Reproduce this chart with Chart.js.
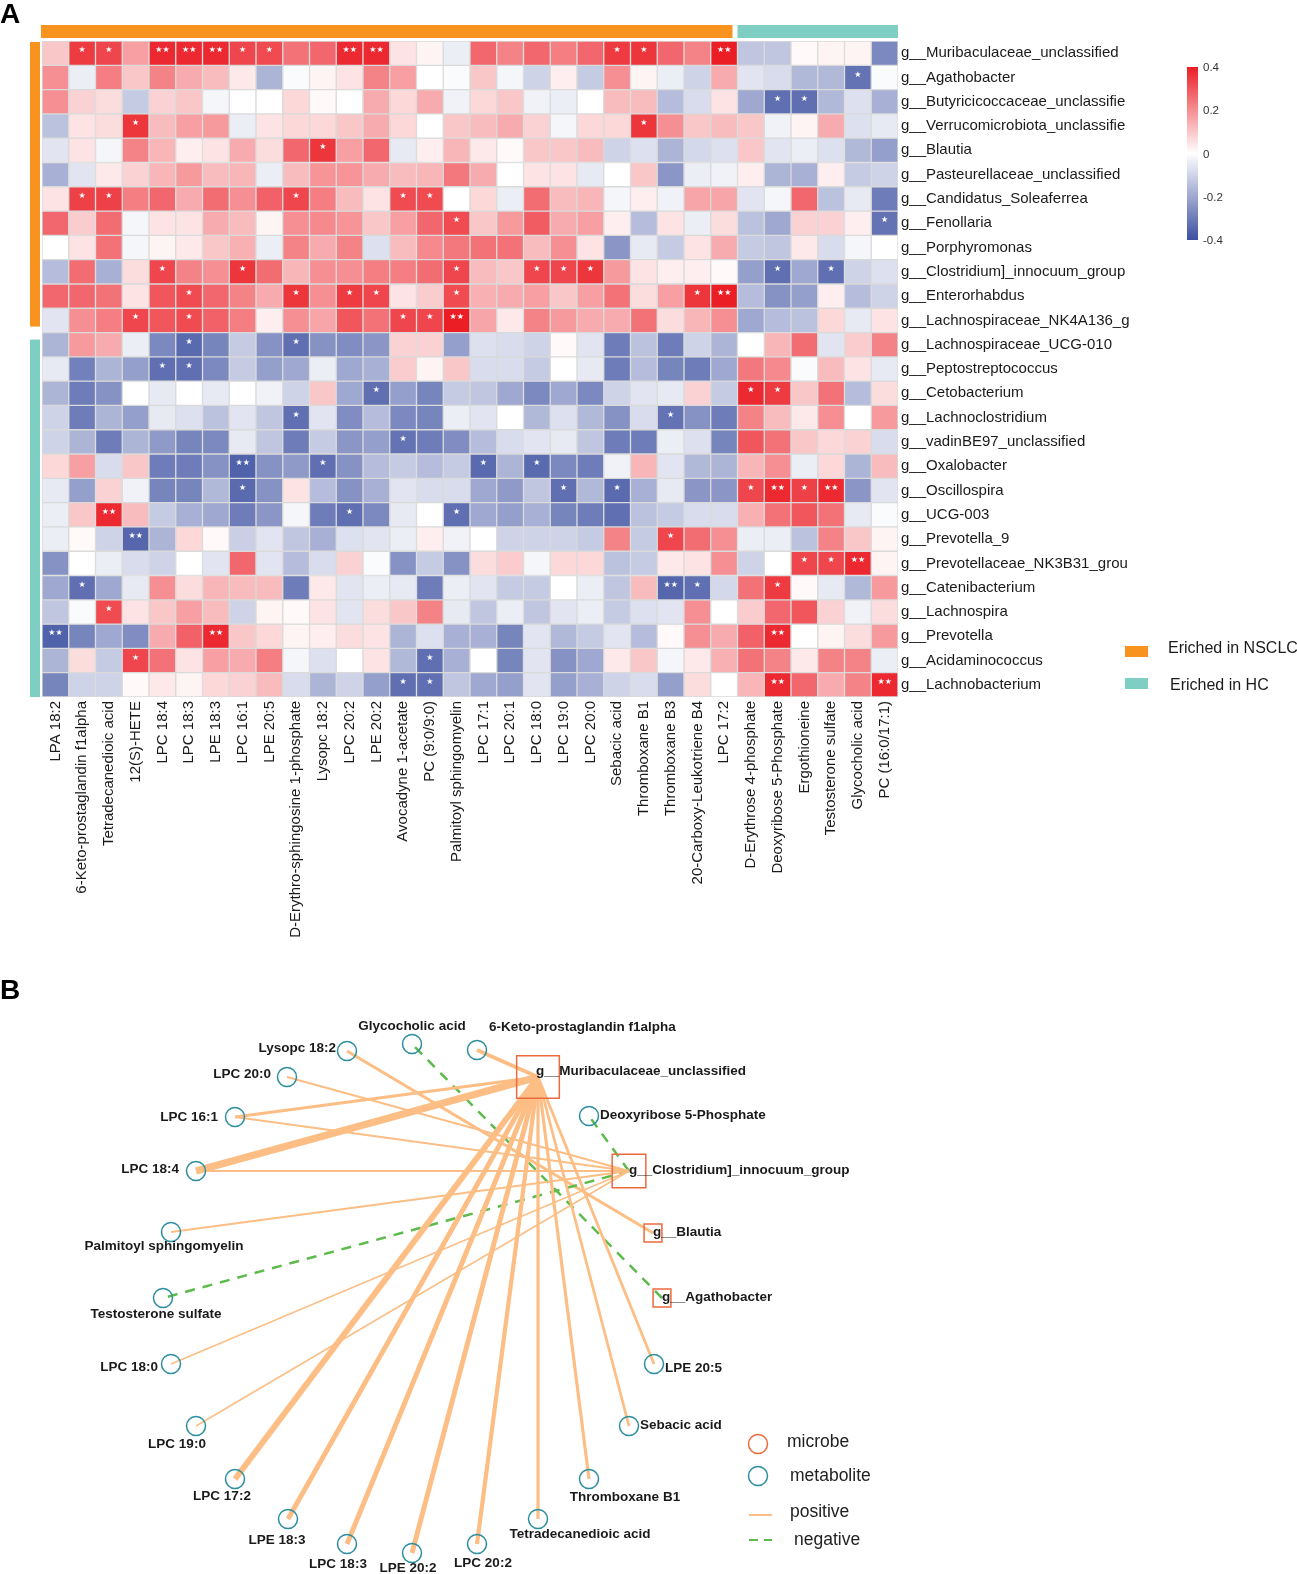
<!DOCTYPE html>
<html>
<head>
<meta charset="utf-8">
<script src="https://cdn.jsdelivr.net/npm/chart.js@4.4.0/dist/chart.umd.min.js"></script>
<style>
  html, body { margin: 0; padding: 0; background: #fff; }
  body { width: 1297px; height: 1574px; position: relative; overflow: hidden; }
  #heat { position: absolute; left: 0; top: 0; }
  #net { position: absolute; left: 0; top: 975px; }
  .tag { position: absolute; font: bold 28px/28px 'Liberation Sans', Arial, sans-serif; color: #000; }
</style>
</head>
<body>
<canvas id="heat" width="1297" height="965"></canvas>
<canvas id="net" width="1297" height="599"></canvas>
<div class="tag" style="left:0; top:0">A</div>
<div class="tag" style="left:0; top:976px">B</div>
<script>
// ---------------------------------------------------------------------------
// Panel A data: Spearman correlations between genera (rows) and metabolites
// ---------------------------------------------------------------------------
const columnLabels = [
  'LPA 18:2', '6-Keto-prostaglandin f1alpha', 'Tetradecanedioic acid', '12(S)-HETE',
  'LPC 18:4', 'LPC 18:3', 'LPE 18:3', 'LPC 16:1', 'LPE 20:5',
  'D-Erythro-sphingosine 1-phosphate', 'Lysopc 18:2', 'LPC 20:2', 'LPE 20:2',
  'Avocadyne 1-acetate', 'PC (9:0/9:0)', 'Palmitoyl sphingomyelin', 'LPC 17:1',
  'LPC 20:1', 'LPC 18:0', 'LPC 19:0', 'LPC 20:0', 'Sebacic acid', 'Thromboxane B1',
  'Thromboxane B3', '20-Carboxy-Leukotriene B4', 'LPC 17:2', 'D-Erythrose 4-phosphate',
  'Deoxyribose 5-Phosphate', 'Ergothioneine', 'Testosterone sulfate', 'Glycocholic acid',
  'PC (16:0/17:1)',
];

const rowLabels = [
  'g__Muribaculaceae_unclassified', 'g__Agathobacter', 'g__Butyricicoccaceae_unclassifie',
  'g__Verrucomicrobiota_unclassifie', 'g__Blautia', 'g__Pasteurellaceae_unclassified',
  'g__Candidatus_Soleaferrea', 'g__Fenollaria', 'g__Porphyromonas',
  'g__Clostridium]_innocuum_group', 'g__Enterorhabdus', 'g__Lachnospiraceae_NK4A136_g',
  'g__Lachnospiraceae_UCG-010', 'g__Peptostreptococcus', 'g__Cetobacterium',
  'g__Lachnoclostridium', 'g__vadinBE97_unclassified', 'g__Oxalobacter', 'g__Oscillospira',
  'g__UCG-003', 'g__Prevotella_9', 'g__Prevotellaceae_NK3B31_grou', 'g__Catenibacterium',
  'g__Lachnospira', 'g__Prevotella', 'g__Acidaminococcus', 'g__Lachnobacterium',
];

// groups: first 26 metabolites / first 12 genera are enriched in NSCLC
const nsclcColumnCount = 26;
const nsclcRowCount = 12;

const corrValues = [
  [0.10, 0.35, 0.33, 0.17, 0.38, 0.38, 0.38, 0.33, 0.32, 0.25, 0.27, 0.38, 0.38, 0.05, 0.02, -0.04, 0.27, 0.22, 0.27, 0.23, 0.27, 0.35, 0.36, 0.27, 0.22, 0.40, -0.13, -0.13, 0.01, 0.02, 0.02, -0.27],
  [0.20, -0.04, 0.23, 0.10, 0.22, 0.15, 0.12, 0.04, -0.17, -0.01, 0.02, 0.05, 0.22, 0.17, 0.00, -0.01, 0.10, -0.02, -0.10, 0.03, -0.12, 0.20, 0.02, -0.04, -0.10, 0.15, -0.06, -0.08, -0.16, -0.16, -0.32, -0.01],
  [0.20, 0.08, 0.06, -0.12, 0.08, 0.10, -0.02, 0.00, 0.00, 0.07, 0.01, 0.00, 0.15, 0.07, 0.15, -0.03, 0.07, 0.10, -0.03, -0.04, 0.00, 0.12, 0.12, -0.15, -0.08, 0.05, -0.20, -0.33, -0.33, -0.16, -0.07, -0.18],
  [-0.14, 0.05, 0.06, 0.36, 0.12, 0.17, 0.18, -0.04, 0.05, 0.07, 0.07, 0.10, 0.15, 0.07, 0.00, 0.10, 0.12, 0.15, 0.08, -0.02, 0.07, 0.07, 0.36, 0.20, 0.10, 0.12, 0.10, -0.03, 0.02, 0.15, -0.07, -0.05],
  [-0.06, 0.05, -0.02, 0.22, 0.13, 0.03, 0.05, 0.15, 0.06, 0.27, 0.36, 0.17, 0.27, -0.05, 0.03, 0.13, 0.04, 0.01, 0.10, 0.10, 0.12, -0.10, -0.07, -0.17, -0.09, -0.07, 0.10, -0.06, -0.04, -0.07, -0.16, -0.22],
  [-0.18, -0.06, 0.04, 0.08, 0.13, 0.18, 0.12, 0.13, -0.04, 0.12, 0.19, 0.19, 0.15, 0.12, 0.13, 0.24, 0.15, 0.00, 0.05, 0.05, -0.05, 0.00, 0.10, -0.24, -0.04, -0.03, 0.03, -0.17, -0.18, 0.03, -0.12, -0.10],
  [0.05, 0.34, 0.34, 0.23, 0.27, 0.15, 0.26, 0.20, 0.28, 0.33, 0.23, 0.12, 0.05, 0.32, 0.32, 0.00, 0.07, -0.04, 0.26, 0.12, 0.13, -0.02, 0.03, -0.03, 0.16, 0.16, -0.06, -0.02, 0.27, -0.14, -0.05, -0.30],
  [0.27, 0.09, 0.26, -0.02, 0.05, 0.05, 0.15, 0.12, 0.02, 0.20, 0.21, 0.19, 0.10, 0.17, 0.27, 0.32, 0.10, 0.18, 0.29, 0.15, 0.17, 0.03, -0.15, 0.05, -0.04, 0.06, -0.14, -0.20, 0.08, 0.08, 0.03, -0.32],
  [0.00, 0.05, 0.25, -0.02, 0.02, 0.04, 0.10, 0.14, -0.04, 0.22, 0.15, 0.22, -0.07, 0.12, 0.21, 0.24, 0.25, 0.25, 0.12, 0.20, 0.05, -0.24, -0.05, -0.12, 0.05, 0.15, -0.12, -0.13, 0.04, -0.08, -0.02, 0.00],
  [-0.15, 0.26, -0.18, 0.06, 0.33, 0.22, 0.20, 0.36, 0.26, 0.13, 0.20, 0.20, 0.23, 0.23, 0.26, 0.33, 0.12, 0.10, 0.33, 0.33, 0.36, 0.18, 0.05, 0.03, 0.03, 0.01, -0.22, -0.33, -0.20, -0.33, -0.10, -0.07],
  [0.27, 0.27, 0.25, 0.05, 0.30, 0.32, 0.27, 0.22, 0.15, 0.36, 0.20, 0.35, 0.33, 0.05, 0.09, 0.32, 0.14, 0.15, 0.17, 0.10, 0.17, 0.25, 0.06, 0.17, 0.36, 0.40, -0.15, -0.25, -0.22, 0.03, -0.15, -0.10],
  [-0.06, 0.20, 0.23, 0.33, 0.30, 0.32, 0.28, 0.23, 0.03, 0.20, 0.16, 0.30, 0.25, 0.33, 0.33, 0.40, 0.16, 0.04, 0.22, 0.18, 0.15, 0.15, 0.25, 0.06, 0.13, 0.20, -0.20, -0.15, -0.14, 0.07, -0.05, 0.05],
  [-0.17, 0.18, 0.15, -0.04, -0.27, -0.34, -0.28, -0.12, -0.25, -0.33, -0.25, -0.26, -0.24, 0.08, 0.08, -0.22, -0.07, -0.08, -0.10, 0.01, -0.06, -0.30, -0.14, -0.30, -0.10, -0.17, 0.00, 0.13, 0.26, -0.06, 0.09, 0.22],
  [-0.05, -0.29, -0.17, -0.22, -0.33, -0.33, -0.27, -0.12, -0.22, -0.20, -0.04, -0.20, -0.18, 0.09, 0.02, 0.10, -0.08, -0.08, -0.12, 0.00, -0.05, -0.30, -0.15, -0.28, -0.30, -0.20, 0.24, 0.21, -0.01, 0.12, 0.05, -0.05],
  [-0.17, -0.30, -0.25, 0.00, -0.05, 0.00, -0.05, 0.00, -0.03, -0.10, 0.10, -0.20, -0.33, -0.22, -0.28, -0.12, -0.13, -0.20, -0.27, -0.20, -0.27, -0.10, -0.06, -0.05, 0.08, -0.12, 0.38, 0.35, 0.10, 0.25, -0.15, 0.06],
  [-0.10, -0.30, -0.17, -0.22, -0.05, -0.07, -0.14, -0.06, -0.13, -0.33, -0.06, -0.26, -0.15, -0.27, -0.28, -0.04, -0.06, 0.00, -0.16, -0.07, -0.16, -0.25, -0.08, -0.32, -0.25, -0.30, 0.22, 0.12, 0.04, 0.20, 0.00, 0.18],
  [-0.10, -0.17, -0.30, -0.17, -0.23, -0.28, -0.27, -0.05, -0.13, -0.30, -0.12, -0.24, -0.22, -0.32, -0.30, -0.26, -0.15, -0.08, -0.06, -0.05, -0.13, -0.30, -0.30, -0.04, -0.07, -0.28, 0.30, 0.25, 0.10, 0.07, 0.08, -0.08],
  [0.07, 0.17, -0.08, 0.10, -0.30, -0.30, -0.25, -0.36, -0.25, -0.23, -0.33, -0.25, -0.15, -0.12, -0.15, -0.12, -0.34, -0.17, -0.34, -0.27, -0.30, -0.03, 0.13, -0.06, -0.16, -0.17, 0.13, 0.20, -0.04, 0.07, -0.17, 0.12],
  [-0.05, -0.22, 0.08, -0.03, -0.28, -0.28, -0.16, -0.34, -0.25, 0.05, -0.15, -0.25, -0.18, -0.06, -0.08, -0.08, -0.20, -0.23, -0.13, -0.33, -0.16, -0.34, -0.18, -0.05, -0.24, -0.24, 0.33, 0.38, 0.34, 0.38, -0.24, -0.06],
  [-0.04, 0.10, 0.38, 0.12, -0.12, -0.18, -0.20, -0.30, -0.24, -0.02, -0.30, -0.33, -0.27, -0.05, 0.00, -0.33, -0.20, -0.22, -0.18, -0.28, -0.30, -0.33, -0.14, -0.12, -0.08, -0.08, 0.14, 0.25, 0.30, 0.25, -0.05, -0.01],
  [-0.04, 0.01, -0.10, -0.35, -0.17, 0.07, 0.01, -0.11, -0.06, -0.13, -0.18, -0.07, -0.06, -0.04, 0.03, -0.03, 0.00, -0.10, -0.10, -0.10, -0.12, 0.22, -0.12, 0.33, 0.26, 0.20, -0.04, -0.04, -0.14, 0.22, 0.10, 0.02],
  [-0.25, 0.00, -0.04, -0.08, -0.10, 0.00, -0.06, 0.27, -0.06, -0.15, -0.08, 0.08, -0.01, -0.25, -0.12, -0.25, 0.06, 0.09, -0.02, 0.07, 0.07, -0.14, -0.12, 0.04, 0.05, 0.20, -0.10, 0.00, 0.33, 0.33, 0.38, 0.02],
  [-0.20, -0.33, -0.20, -0.05, 0.20, 0.06, 0.13, 0.12, 0.12, -0.30, 0.04, -0.06, -0.04, -0.05, -0.30, -0.04, -0.06, -0.12, -0.12, 0.00, -0.04, -0.13, 0.12, -0.35, -0.33, -0.09, 0.25, 0.35, 0.01, -0.05, -0.16, 0.18],
  [-0.13, -0.01, 0.32, 0.05, 0.10, 0.17, 0.12, -0.10, 0.02, 0.01, 0.05, -0.06, 0.06, 0.10, 0.22, -0.05, -0.13, -0.04, -0.13, -0.06, -0.04, -0.12, -0.07, -0.06, 0.20, 0.00, 0.09, 0.27, 0.30, 0.08, -0.03, 0.06],
  [-0.36, -0.28, -0.20, -0.26, 0.15, 0.28, 0.38, 0.10, 0.07, 0.02, 0.03, 0.06, 0.05, -0.17, -0.07, -0.18, -0.18, -0.28, -0.06, -0.16, -0.12, -0.06, -0.15, 0.01, 0.20, 0.15, 0.28, 0.38, 0.00, 0.02, 0.06, 0.18],
  [-0.17, 0.06, -0.12, 0.33, 0.25, 0.05, 0.17, 0.15, 0.23, -0.02, -0.07, 0.00, 0.05, -0.16, -0.33, -0.18, 0.00, -0.28, -0.06, -0.25, -0.20, 0.04, 0.10, -0.02, 0.04, 0.14, 0.25, 0.22, 0.04, 0.22, 0.22, -0.04],
  [-0.28, -0.10, -0.10, 0.01, 0.04, 0.02, 0.07, 0.08, 0.12, -0.08, -0.17, -0.10, -0.22, -0.33, -0.33, -0.13, -0.20, -0.22, -0.06, -0.22, -0.18, -0.10, -0.08, -0.22, 0.06, 0.00, 0.13, 0.38, 0.27, 0.15, 0.22, 0.38],
];

// significance marks: [row, column, number of stars]
const starCells = [
  [0, 1, 1], [0, 2, 1], [0, 4, 2], [0, 5, 2], [0, 6, 2], [0, 7, 1], [0, 8, 1], [0, 11, 2], [0, 12, 2], [0, 21, 1], [0, 22, 1], [0, 25, 2],
  [1, 30, 1], [2, 27, 1], [2, 28, 1], [3, 3, 1], [3, 22, 1], [4, 10, 1],
  [6, 1, 1], [6, 2, 1], [6, 9, 1], [6, 13, 1], [6, 14, 1], [7, 15, 1], [7, 31, 1],
  [9, 4, 1], [9, 7, 1], [9, 15, 1], [9, 18, 1], [9, 19, 1], [9, 20, 1], [9, 27, 1], [9, 29, 1],
  [10, 5, 1], [10, 9, 1], [10, 11, 1], [10, 12, 1], [10, 15, 1], [10, 24, 1], [10, 25, 2],
  [11, 3, 1], [11, 5, 1], [11, 13, 1], [11, 14, 1], [11, 15, 2],
  [12, 5, 1], [12, 9, 1], [13, 4, 1], [13, 5, 1], [14, 12, 1], [14, 26, 1], [14, 27, 1],
  [15, 9, 1], [15, 23, 1], [16, 13, 1], [17, 7, 2], [17, 10, 1], [17, 16, 1], [17, 18, 1],
  [18, 7, 1], [18, 19, 1], [18, 21, 1], [18, 26, 1], [18, 27, 2], [18, 28, 1], [18, 29, 2],
  [19, 2, 2], [19, 11, 1], [19, 15, 1], [20, 3, 2], [20, 23, 1], [21, 28, 1], [21, 29, 1], [21, 30, 2],
  [22, 1, 1], [22, 23, 2], [22, 24, 1], [22, 27, 1], [23, 2, 1], [24, 0, 2], [24, 6, 2], [24, 27, 2],
  [25, 3, 1], [25, 14, 1], [26, 13, 1], [26, 14, 1], [26, 27, 2], [26, 31, 2],
];

const colorbarTicks = [0.4, 0.2, 0, -0.2, -0.4];
const groupLegend = ['Eriched in NSCLC', 'Eriched in HC'];

// ---------------------------------------------------------------------------
// Panel B data: network of significant microbe-metabolite pairs
// ---------------------------------------------------------------------------
const metaboliteNames = [
  'Glycocholic acid', '6-Keto-prostaglandin f1alpha', 'Lysopc 18:2', 'LPC 20:0', 'LPC 16:1',
  'LPC 18:4', 'Palmitoyl sphingomyelin', 'Testosterone sulfate', 'LPC 18:0', 'LPC 19:0',
  'LPC 17:2', 'LPE 18:3', 'LPC 18:3', 'LPE 20:2', 'LPC 20:2', 'Tetradecanedioic acid',
  'Thromboxane B1', 'Sebacic acid', 'LPE 20:5', 'Deoxyribose 5-Phosphate',
];
// layout coordinates of the network nodes
const metaboliteX = [412, 477, 347, 287, 235, 196, 171, 163, 171, 196, 235, 288, 347, 412, 477, 538, 589, 629, 654, 589];
const metaboliteY = [1044, 1050, 1051, 1077, 1117, 1171, 1232, 1298, 1364, 1426, 1479, 1519, 1544, 1553, 1544, 1519, 1479, 1426, 1364, 1116];

const microbeNames = ['g__Muribaculaceae_unclassified', 'g__Clostridium]_innocuum_group', 'g__Blautia', 'g__Agathobacter'];
const microbeX = [538, 629, 653, 662];
const microbeY = [1077, 1171, 1233, 1298];

const edgeMicrobe = [0, 0, 0, 0, 0, 0, 0, 0, 0, 0, 0, 0, 1, 1, 1, 1, 1, 1, 1, 1, 2, 3];
const edgeMetabolite = [
  '6-Keto-prostaglandin f1alpha', 'Tetradecanedioic acid', 'LPC 18:4', 'LPC 18:3', 'LPE 18:3',
  'LPC 16:1', 'LPE 20:5', 'LPC 20:2', 'LPE 20:2', 'Sebacic acid', 'Thromboxane B1', 'LPC 17:2',
  'LPC 18:4', 'LPC 16:1', 'Palmitoyl sphingomyelin', 'LPC 18:0', 'LPC 19:0', 'LPC 20:0',
  'Deoxyribose 5-Phosphate', 'Testosterone sulfate', 'Lysopc 18:2', 'Glycocholic acid',
];
const edgeR = [0.36, 0.34, 0.46, 0.39, 0.39, 0.34, 0.33, 0.37, 0.39, 0.33, 0.34, 0.42, 0.31, 0.31, 0.31, 0.29, 0.29, 0.31, -0.32, -0.32, 0.34, -0.32];

const netLegend = ['microbe', 'metabolite', 'positive', 'negative'];

// ---------------------------------------------------------------------------
// Styling
// ---------------------------------------------------------------------------
const FONT = "'Liberation Sans', Arial, Helvetica, sans-serif";
const ORANGE = '#F7931E';
const TEAL = '#7ECEC4';
const RED = [235, 30, 38];
const BLUE = [61, 80, 161];
const EDGE_POS = '#FCBE84';
const EDGE_NEG = '#5DBB4C';
const NODE_TEAL = '#2C8E9E';
const NODE_RED = '#EC6A3E';

function cellColor(v) {
  const t = Math.max(-1, Math.min(1, v / 0.4));
  const end = t >= 0 ? RED : BLUE;
  const a = Math.abs(t);
  const c = end.map((e) => Math.round(255 + (e - 255) * a));
  return `rgb(${c[0]}, ${c[1]}, ${c[2]})`;
}

// label placement around metabolite nodes: [align, dx, dy]
const metaboliteLabelPlace = [
  ['center', 0, -18], ['left', 12, -23], ['right', -11, -3], ['right', -16, -3], ['right', -17, 0],
  ['right', -17, -2], ['center', -7, 14], ['center', -7, 16], ['right', -13, 3], ['center', -19, 18],
  ['center', -13, 17], ['center', -11, 21], ['center', -9, 20], ['center', -4, 15], ['center', 6, 19],
  ['center', 42, 15], ['center', 36, 18], ['left', 11, -1], ['left', 11, 4], ['left', 11, -1],
];

// ---------------------------------------------------------------------------
// Panel A: heatmap as stacked unit bars
// ---------------------------------------------------------------------------
const heatDatasets = rowLabels.map((name, r) => ({
  label: name,
  data: columnLabels.map(() => 1),
  backgroundColor: corrValues[r].map(cellColor),
  borderColor: '#dadada',
  borderWidth: 1,
  borderSkipped: false,
  categoryPercentage: 1,
  barPercentage: 1,
}));

const starPlugin = {
  id: 'stars',
  afterDatasetsDraw(chart) {
    const ctx = chart.ctx;
    ctx.save();
    ctx.fillStyle = '#ffffff';
    ctx.font = "8px 'DejaVu Sans'";
    ctx.textAlign = 'center';
    ctx.textBaseline = 'middle';
    starCells.forEach(([r, c, n]) => {
      const bar = chart.getDatasetMeta(r).data[c];
      const cy = (bar.y + bar.base) / 2;
      ctx.fillText(n === 2 ? '\u2605\u2605' : '\u2605', bar.x, cy - 3);
    });
    ctx.restore();
  },
};

const annotationPlugin = {
  id: 'annotations',
  afterDraw(chart) {
    const ctx = chart.ctx;
    const { left, right, top, bottom } = chart.chartArea;
    const cw = (right - left) / columnLabels.length;
    const rh = (bottom - top) / rowLabels.length;
    ctx.save();
    // column groups
    const split = left + nsclcColumnCount * cw;
    ctx.fillStyle = ORANGE;
    ctx.fillRect(left - 1, top - 16, split - left - 4, 13);
    ctx.fillStyle = TEAL;
    ctx.fillRect(split, top - 16, right - split, 13);
    // row groups
    const rsplit = top + nsclcRowCount * rh;
    ctx.fillStyle = ORANGE;
    ctx.fillRect(left - 12, top + 1, 10, rsplit - top - 7);
    ctx.fillStyle = TEAL;
    ctx.fillRect(left - 12, rsplit + 7, 10, bottom - rsplit - 7);

    // colour bar
    const bx = 1187, by = 67, bw = 11, bh = 173;
    const grad = ctx.createLinearGradient(0, by, 0, by + bh);
    grad.addColorStop(0, cellColor(0.4));
    grad.addColorStop(0.25, cellColor(0.2));
    grad.addColorStop(0.5, '#ffffff');
    grad.addColorStop(0.75, cellColor(-0.2));
    grad.addColorStop(1, cellColor(-0.4));
    ctx.fillStyle = grad;
    ctx.fillRect(bx, by, bw, bh);
    ctx.fillStyle = '#333';
    ctx.font = `11.5px ${FONT}`;
    ctx.textAlign = 'left';
    ctx.textBaseline = 'middle';
    colorbarTicks.forEach((t) => {
      const yy = by + ((0.4 - t) / 0.8) * bh + 1;
      ctx.fillText(String(t), 1203, yy);
    });

    // group legend
    ctx.font = `16px ${FONT}`;
    ctx.fillStyle = ORANGE;
    ctx.fillRect(1125, 646, 23, 11);
    ctx.fillStyle = TEAL;
    ctx.fillRect(1125, 678, 23, 11);
    ctx.fillStyle = '#1a1a1a';
    ctx.fillText(groupLegend[0], 1168, 649);
    ctx.fillText(groupLegend[1], 1170, 686);
    ctx.restore();
  },
};

new Chart(document.getElementById('heat'), {
  type: 'bar',
  data: { labels: columnLabels, datasets: heatDatasets },
  options: {
    responsive: false,
    animation: false,
    events: [],
    layout: { autoPadding: false, padding: { left: 42, top: 41, right: 0, bottom: 0 } },
    plugins: { legend: { display: false }, tooltip: { enabled: false } },
    scales: {
      x: {
        type: 'category',
        stacked: true,
        grid: { display: false, drawTicks: false },
        border: { display: false },
        ticks: {
          autoSkip: false,
          minRotation: 90,
          maxRotation: 90,
          padding: 4,
          color: '#1a1a1a',
          font: { family: FONT, size: 15 },
        },
        afterFit: (scale) => { scale.height = 268; },
      },
      y: {
        type: 'linear',
        stacked: true,
        min: 0,
        max: rowLabels.length,
        reverse: true,
        display: false,
      },
      y2: {
        type: 'category',
        labels: rowLabels,
        position: 'right',
        offset: true,
        grid: { display: false, drawTicks: false },
        border: { display: false },
        ticks: {
          autoSkip: false,
          padding: 3,
          color: '#1a1a1a',
          font: { family: FONT, size: 15 },
        },
        afterFit: (scale) => { scale.width = 399; },
      },
    },
  },
  plugins: [starPlugin, annotationPlugin],
});

// ---------------------------------------------------------------------------
// Panel B: correlation network
// ---------------------------------------------------------------------------
const degree = microbeNames.map((_, i) => edgeMicrobe.filter((m) => m === i).length);

const edgeDatasets = edgeR.map((r, k) => {
  const m = edgeMicrobe[k];
  const j = metaboliteNames.indexOf(edgeMetabolite[k]);
  const positive = r > 0;
  return {
    data: [{ x: microbeX[m], y: microbeY[m] }, { x: metaboliteX[j], y: metaboliteY[j] }],
    showLine: true,
    borderColor: positive ? EDGE_POS : EDGE_NEG,
    borderWidth: positive ? Math.max(1.5, (Math.abs(r) - 0.25) * 35) : 2.5,
    borderDash: positive ? [] : [10, 8],
    borderCapStyle: 'butt',
    pointRadius: 0,
    clip: false,
  };
});

const metaboliteDataset = {
  data: metaboliteNames.map((_, i) => ({ x: metaboliteX[i], y: metaboliteY[i] })),
  pointStyle: 'circle',
  pointRadius: 9.5,
  pointBorderColor: NODE_TEAL,
  pointBackgroundColor: 'rgba(0,0,0,0)',
  pointBorderWidth: 1.5,
  clip: false,
};

const microbeDataset = {
  data: microbeNames.map((_, i) => ({ x: microbeX[i], y: microbeY[i] })),
  pointStyle: 'rect',
  pointRadius: degree.map((d) => 11 + 1.6 * d),
  pointBorderColor: NODE_RED,
  pointBackgroundColor: 'rgba(0,0,0,0)',
  pointBorderWidth: 1.5,
  clip: false,
};

const netLabelPlugin = {
  id: 'netLabels',
  afterDatasetsDraw(chart) {
    const ctx = chart.ctx;
    ctx.save();
    ctx.fillStyle = '#1a1a1a';
    ctx.font = `bold 13.5px ${FONT}`;
    ctx.textBaseline = 'middle';
    chart.getDatasetMeta(0).data.forEach((pt, i) => {
      const [align, dx, dy] = metaboliteLabelPlace[i];
      ctx.textAlign = align;
      ctx.fillText(metaboliteNames[i], pt.x + dx, pt.y + dy);
    });
    ctx.textAlign = 'left';
    chart.getDatasetMeta(1).data.forEach((pt, i) => {
      ctx.fillText(microbeNames[i], pt.x + (i === 0 ? -2 : 0), pt.y + (i === 0 ? -6 : -1));
    });

    // legend
    const xs = chart.scales.x;
    const ys = chart.scales.y;
    const lx = xs.getPixelForValue(758);
    ctx.lineWidth = 1.5;
    ctx.strokeStyle = NODE_RED;
    ctx.beginPath();
    ctx.arc(lx, ys.getPixelForValue(1444), 9.5, 0, Math.PI * 2);
    ctx.stroke();
    ctx.strokeStyle = NODE_TEAL;
    ctx.beginPath();
    ctx.arc(lx, ys.getPixelForValue(1476), 9.5, 0, Math.PI * 2);
    ctx.stroke();
    ctx.lineWidth = 2;
    ctx.strokeStyle = EDGE_POS;
    ctx.beginPath();
    ctx.moveTo(xs.getPixelForValue(749), ys.getPixelForValue(1515));
    ctx.lineTo(xs.getPixelForValue(772), ys.getPixelForValue(1515));
    ctx.stroke();
    ctx.strokeStyle = EDGE_NEG;
    ctx.setLineDash([9, 6]);
    ctx.beginPath();
    ctx.moveTo(xs.getPixelForValue(749), ys.getPixelForValue(1540));
    ctx.lineTo(xs.getPixelForValue(772), ys.getPixelForValue(1540));
    ctx.stroke();
    ctx.setLineDash([]);
    ctx.font = `17.5px ${FONT}`;
    ctx.fillStyle = '#222';
    ctx.fillText(netLegend[0], xs.getPixelForValue(787), ys.getPixelForValue(1442));
    ctx.fillText(netLegend[1], xs.getPixelForValue(790), ys.getPixelForValue(1476));
    ctx.fillText(netLegend[2], xs.getPixelForValue(790), ys.getPixelForValue(1512));
    ctx.fillText(netLegend[3], xs.getPixelForValue(794), ys.getPixelForValue(1540));
    ctx.restore();
  },
};

new Chart(document.getElementById('net'), {
  type: 'scatter',
  data: { datasets: [metaboliteDataset, microbeDataset, ...edgeDatasets] },
  options: {
    responsive: false,
    animation: false,
    events: [],
    layout: { autoPadding: false, padding: 0 },
    plugins: { legend: { display: false }, tooltip: { enabled: false } },
    scales: {
      x: { type: 'linear', min: 0, max: 1297, display: false },
      y: { type: 'linear', min: 975, max: 1574, reverse: true, display: false },
    },
  },
  plugins: [netLabelPlugin],
});
</script>
</body>
</html>
